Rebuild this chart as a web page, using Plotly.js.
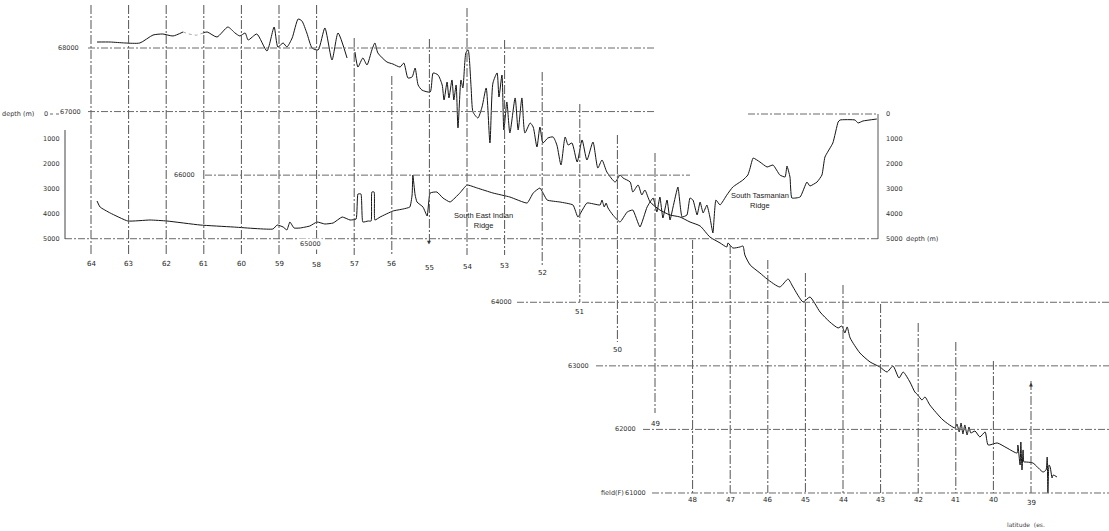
<!DOCTYPE html>
<html><head><meta charset="utf-8">
<script src="https://cdn.plot.ly/plotly-3.0.1.min.js"></script>
<style>html,body{margin:0;padding:0;background:#fff}#chart{width:1109px;height:531px}</style>
</head><body><div id="chart"></div>
<script>
// ---------- DATA ----------
const latTicks = [64,63,62,61,60,59,58,57,56,55,54,53,52,51,50,49,48,47,46,45,44,43,42,41,40,39];
const fieldLevels = [68000,67000,66000,65000,64000,63000,62000,61000];
const fieldLabels = ["68000","67000","66000","65000","64000","63000","62000","61000"];
const depthTicks = [1000,2000,3000,4000,5000];
const depthTicksRight = [0,1000,2000,3000,4000,5000];

// total magnetic field (nT) along the track, by latitude (deg S)
const fieldLat = [63.84,63.49,63.10,62.70,62.35,62.09,61.82,61.55,null,
61.02,60.91,60.65,60.36,60.17,60.04,59.90,59.82,59.59,59.32,59.13,59.03,58.89,58.79,58.65,58.49,58.39,58.26,58.12,57.96,57.78,57.59,57.43,57.19,null,
56.98,56.90,56.77,56.66,56.53,56.45,56.37,56.13,55.97,55.78,55.68,55.57,55.46,55.38,55.30,55.20,54.98,54.90,54.77,54.66,54.61,54.53,54.48,54.40,54.35,54.29,54.24,54.16,54.11,54.03,53.97,53.89,53.84,53.71,53.60,53.49,53.39,53.31,53.20,53.15,53.07,53.02,52.94,52.86,52.72,52.64,52.54,52.46,52.32,52.24,52.14,52.06,51.98,51.85,51.71,51.61,51.50,51.39,51.31,51.21,51.07,50.94,50.81,50.65,50.52,50.41,50.28,50.06,49.93,49.85,49.66,49.59,49.45,49.35,49.27,49.13,48.87,48.60,48.34,48.07,47.80,47.54,47.27,47.09,47.06,46.93,46.74,46.66,46.61,46.47,46.21,46.02,45.68,45.46,45.33,45.06,44.88,44.61,44.35,44.13,44.03,43.95,43.89,43.81,43.55,43.28,43.02,42.83,42.67,42.51,42.40,42.22,42.09,42.01,41.90,41.82,41.69,41.34,41.02,40.97,40.91,40.86,40.81,40.76,40.70,40.65,40.60,40.49,40.36,40.22,40.14,39.90,39.64,39.37,39.35,39.29,39.27,39.24,39.21,39.19,39.16,38.95,38.68,38.60,38.57,38.55,38.52,38.49,38.44,38.41,38.31];
const fieldNT = [68094,68094,68079,68079,68204,68220,68189,68252,null,
68236,68252,68173,68330,68236,68189,68236,68126,68220,67953,68330,68016,68079,68016,68157,68456,68425,68236,68000,67969,68315,67811,68236,67843,null,
67937,67701,67843,67733,67969,68079,67921,67780,67748,67701,67764,67528,67544,67685,67418,67339,67308,67607,67575,67418,67182,67465,67214,67497,67182,67418,66742,67497,67371,67921,67969,67371,66993,66899,67072,67371,66506,67449,67607,67229,67575,66710,67151,66663,67214,66710,67214,66663,66820,66757,66443,66757,66506,66584,66600,66474,66160,66600,66474,66506,66207,66553,66238,66521,66112,66238,66049,65892,66002,65955,65892,65735,65845,65688,65766,65578,65452,65373,65342,65263,65200,65027,64933,64870,64933,64854,64870,64885,64744,64587,64461,64366,64241,64366,64241,64005,64083,63847,63690,63596,63627,63517,63612,63439,63202,63061,62982,62903,62998,62809,62903,62746,62589,62542,62463,62510,62384,62148,62023,62085,61960,62101,61928,62070,61912,62038,61944,61975,61881,61960,61755,61787,61708,61629,61755,61441,61802,61362,61677,61488,61488,61472,61330,61362,61566,61000,61441,61409,61236,61283,61252];

// faint dotted stretch of the field record
const fieldFaintLat = [61.55,61.40,61.20,61.02];
const fieldFaintNT = [68252,68220,68200,68236];

// bathymetry (m) along the track
const depthLat = [63.84,63.76,63.49,63.02,62.43,61.98,61.10,60.22,59.16,59.05,58.89,58.79,58.71,58.60,58.44,58.18,57.99,57.78,57.56,57.32,57.11,56.95,56.90,56.82,56.77,56.63,56.55,56.53,56.47,56.45,56.31,55.97,55.70,55.52,55.46,55.44,55.38,55.33,55.17,55.06,54.98,54.80,54.64,54.45,54.19,54.00,53.73,53.31,52.86,52.40,52.24,52.06,51.87,51.53,51.18,51.05,50.81,50.46,50.41,50.35,50.30,50.25,50.12,49.93,49.74,49.59,49.40,49.21,49.05,48.95,48.87,48.79,48.68,48.60,48.52,48.39,48.28,48.15,48.07,47.99,47.88,47.80,47.72,47.62,47.54,47.46,47.38,47.27,47.09,46.93,46.66,46.53,46.47,46.39,46.21,46.02,45.86,45.68,45.54,45.49,45.41,45.36,45.14,44.96,44.88,44.69,44.56,44.48,44.27,44.13,44.08,43.68,43.60,43.47,43.10];
const depthM = [3480,3720,3960,4280,4240,4280,4440,4520,4600,4440,4520,4640,4320,4560,4560,4480,4320,4400,4360,4120,4240,4200,3200,3200,4320,4280,4280,3120,3120,4240,4120,3880,3800,3720,3240,2440,3240,3520,3720,4080,3160,3120,3360,3520,3160,2840,2960,3160,3320,3560,3160,2960,3440,3520,3640,4120,3560,3640,3440,3720,3560,3760,4040,4320,3920,3840,4520,3720,3360,3920,3320,4160,3440,4240,3720,2920,4120,4040,3360,3440,4040,3520,3960,3640,4120,4760,3440,3640,3240,2920,2640,2440,2160,1760,1920,2120,2040,2440,2520,2080,2520,3360,3320,2720,2880,2720,2440,1720,1160,320,240,240,360,280,200];

// ---------- LAYOUT (staircase of the scanned figure, pixel positions) ----------
const W = 1109, H = 531;
const px = v => v / W;
const py = v => 1 - v / H;
// [top, bottom, labelY] of each latitude line
const latLineSpan = {64:[5,255,264],63:[5,255,264],62:[5,255,264],61:[5,255,264],60:[5,255,264],59:[5,255,264],58:[5,255,265],57:[38,255,264],56:[76,255,264],55:[39,242,268],54:[8,255,267],53:[40,255,266],52:[72,266,273],51:[104,302,312],50:[135,342,350],49:[153,413,424],48:[240,493,500],47:[245,493,500],46:[260,493,500],45:[273,493,500],44:[285,493,500],43:[304,493,500],42:[323,493,500],41:[342,493,500],40:[361,493,500],39:[381,493,503]};
// [lineStartX, lineEndX, labelRightX] per field level
const levelSpan = [[88,655,81],[88,655,83],[205,690,197],[65,878,null],[517,1109,514],[596,1109,591],[643,1109,638],[652,1109,648]];

const gridCol = '#6a6a6a';
const shapes = [];
const annotations = [];
const fontBase = {family:'DejaVu Sans, sans-serif', size:6.5, color:'#333'};

latTicks.forEach(l => {
  const s = latLineSpan[l];
  shapes.push({type:'line', xref:'x', yref:'paper', x0:l, x1:l, y0:py(s[0]), y1:py(s[1]),
    line:{color:'#555', width:1, dash:'9px,2px,2px,2px'}});
  annotations.push({xref:'x', yref:'paper', x:l, y:py(s[2]), text:String(l), showarrow:false,
    xanchor:'center', yanchor:'middle', font:{family:'DejaVu Sans, sans-serif', size:7, color:'#222'}});
});

fieldLevels.forEach((v,i) => {
  const s = levelSpan[i];
  shapes.push({type:'line', xref:'paper', yref:'y', x0:px(s[0]), x1:px(s[1]), y0:v, y1:v,
    line:{color:gridCol, width:1, dash:'7px,2px,2px,2px'}});
  if (s[2] !== null) {
    annotations.push({xref:'paper', yref:'y', x:px(s[2]), y:v, text:fieldLabels[i], showarrow:false,
      xanchor:'right', yanchor:'middle', font:fontBase});
  } else {
    annotations.push({xref:'paper', yref:'y', x:px(310), y:v, text:fieldLabels[i], showarrow:false,
      xanchor:'center', yanchor:'top', yshift:1, bgcolor:'#fff', font:fontBase});
  }
});
annotations.push({xref:'paper', yref:'y', x:px(626), y:61000, text:'field(F)', showarrow:false,
  xanchor:'right', yanchor:'middle', font:fontBase});

// left depth scale
shapes.push({type:'line', xref:'paper', yref:'y2', x0:px(65), x1:px(65), y0:640, y1:5000, line:{color:'#444', width:1}});
shapes.push({type:'line', xref:'paper', yref:'y2', x0:px(50), x1:px(60), y0:0, y1:0, line:{color:gridCol, width:1, dash:'3px,3px'}});
depthTicks.forEach(d => {
  annotations.push({xref:'paper', yref:'y2', x:px(62), y:d, text:String(d), showarrow:false,
    xanchor:'right', yanchor:'middle', font:fontBase});
});
annotations.push({xref:'paper', yref:'y2', x:px(36), y:0, text:'depth (m)', showarrow:false,
  xanchor:'right', yanchor:'middle', font:fontBase});
annotations.push({xref:'paper', yref:'y2', x:px(46), y:0, text:'0', showarrow:false,
  xanchor:'center', yanchor:'middle', font:fontBase});

// right depth box (South Tasmanian Ridge)
shapes.push({type:'line', xref:'paper', yref:'y2', x0:px(748), x1:px(878), y0:0, y1:0, line:{color:gridCol, width:1, dash:'7px,2px,2px,2px'}});
shapes.push({type:'line', xref:'paper', yref:'y2', x0:px(878), x1:px(878), y0:0, y1:5000, line:{color:'#555', width:1}});
depthTicksRight.forEach(d => {
  annotations.push({xref:'paper', yref:'y2', x:px(884), y:d, text:String(d), showarrow:false,
    xanchor:'left', yanchor:'middle', font:fontBase});
});
annotations.push({xref:'paper', yref:'y2', x:px(904), y:5000, text:'depth (m)', showarrow:false,
  xanchor:'left', yanchor:'middle', font:fontBase});

// feature names and misc text
const labelFont = {family:'Liberation Sans, Arial, sans-serif', size:7.5, color:'#222'};
annotations.push({xref:'paper', yref:'paper', x:px(483), y:py(220), text:'South East Indian<br>Ridge', showarrow:false,
  xanchor:'center', yanchor:'middle', align:'center', font:labelFont});
annotations.push({xref:'paper', yref:'paper', x:px(760), y:py(201), text:'South Tasmanian<br>Ridge', showarrow:false,
  xanchor:'center', yanchor:'middle', align:'center', font:labelFont});
annotations.push({xref:'paper', yref:'paper', x:px(1005), y:py(524), text:'latitude  (es.', showarrow:false,
  xanchor:'left', yanchor:'middle', font:{family:'DejaVu Sans, sans-serif', size:6, color:'#444'}});
annotations.push({xref:'x', yref:'paper', x:55, y:py(242), text:'▼', showarrow:false,
  xanchor:'center', yanchor:'middle', font:{family:'DejaVu Sans', size:5, color:'#333'}});
annotations.push({xref:'x', yref:'paper', x:39, y:py(384), text:'▲', showarrow:false,
  xanchor:'center', yanchor:'middle', font:{family:'DejaVu Sans', size:5, color:'#333'}});

const traces = [
  {x:fieldLat, y:fieldNT, type:'scatter', mode:'lines', connectgaps:false, hoverinfo:'skip',
   line:{color:'#151515', width:1, shape:'spline', smoothing:0.6}},
  {x:fieldFaintLat, y:fieldFaintNT, type:'scatter', mode:'lines', hoverinfo:'skip',
   line:{color:'#aaa', width:1, dash:'dot'}},
  {x:depthLat, y:depthM, yaxis:'y2', type:'scatter', mode:'lines', hoverinfo:'skip',
   line:{color:'#151515', width:1, shape:'spline', smoothing:0.4}}
];

const layout = {
  width:W, height:H, margin:{l:0,r:0,t:0,b:0,pad:0},
  paper_bgcolor:'#fff', plot_bgcolor:'#fff', showlegend:false,
  xaxis:{range:[64 + 91/37.6, 64 - 1018/37.6], visible:false, fixedrange:true},
  yaxis:{range:[60402, 68755], visible:false, fixedrange:true},
  yaxis2:{range:[16680, -4560], overlaying:'y', visible:false, fixedrange:true},
  shapes, annotations
};

Plotly.newPlot('chart', traces, layout, {staticPlot:true, displayModeBar:false});
</script>
</body></html>
